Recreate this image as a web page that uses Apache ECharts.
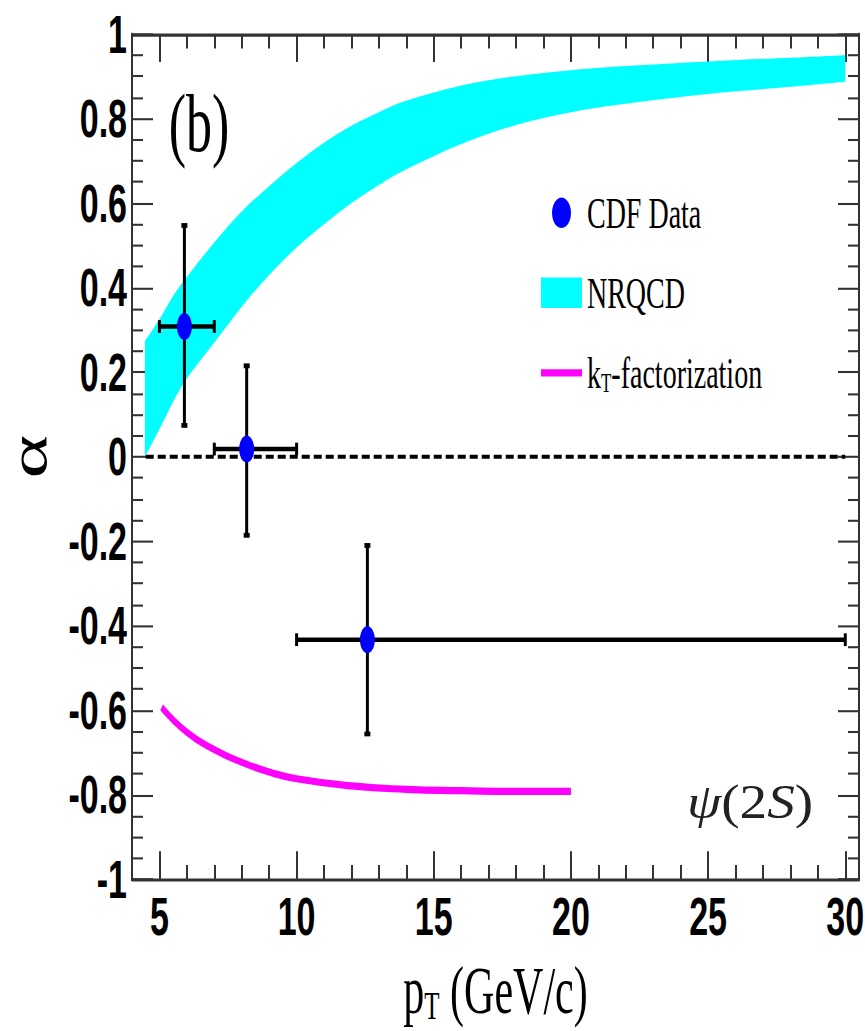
<!DOCTYPE html>
<html>
<head>
<meta charset="utf-8">
<title>psi(2S) polarization vs pT</title>
<script src="https://cdn.jsdelivr.net/npm/echarts@6/dist/echarts.min.js"></script>
<style>
  html, body { margin: 0; padding: 0; background: #fff; }
  #page { width: 865px; height: 1031px; position: relative; }
  /* the reference is stretched vertically: draw it flat, then stretch it back */
  #chart { position: absolute; left: 0; top: 0; width: 865px; height: 644.375px; transform: scaleY(1.6); transform-origin: 0 0; }
</style>
</head>
<body>
<div id="page"><div id="chart"></div></div>
<script>
// NRQCD band
const bandX     = [4.47, 5.0, 5.5, 6.0, 7.0, 8.0, 9.0, 10.0, 11.0, 12.0, 13.0, 14.0, 16.0, 18.0, 20.0, 22.0, 25.0, 28.0, 30.0];
const bandUpper = [0.273, 0.325, 0.38, 0.425, 0.507, 0.58, 0.64, 0.695, 0.743, 0.783, 0.815, 0.842, 0.878, 0.900, 0.914, 0.924, 0.935, 0.944, 0.95];
const bandLower = [0.0, 0.065, 0.13, 0.185, 0.27, 0.355, 0.43, 0.495, 0.55, 0.6, 0.643, 0.68, 0.74, 0.785, 0.815, 0.835, 0.858, 0.875, 0.887];

// kT-factorization curve
const ktX = [5.08, 6, 7, 8, 9, 10, 12, 14, 16, 18, 20];
const ktY = [-0.593, -0.652, -0.693, -0.723, -0.746, -0.762, -0.779, -0.787, -0.790, -0.792, -0.792];

// CDF data points with their pT bins and errors
const cdfX     = [5.91, 8.18, 12.58];
const cdfY     = [0.308, 0.018, -0.433];
const cdfXLow  = [5, 7, 10];
const cdfXHigh = [7, 10, 30];
const cdfYLow  = [0.074, -0.186, -0.656];
const cdfYHigh = [0.547, 0.215, -0.210];

// dashed line at alpha = 0
const zeroX = [4.5, 30];

const xMajorTicks = [5, 10, 15, 20, 25, 30];
const xMinorTicks = [4, 5, 6, 7, 8, 9, 10, 11, 12, 13, 14, 15, 16, 17, 18, 19, 20, 21, 22, 23, 24, 25, 26, 27, 28, 29, 30];

const frame = '#333';
const labelFont = { color: '#000', fontFamily: 'Liberation Sans', fontWeight: 'bold', fontSize: 34 };

function xAxisOf(position, ticks, len, withLine, withLabels) {
  return {
    type: 'value', min: 4, max: 30.5, position: position,
    splitLine: { show: false },
    axisLine: { show: withLine, onZero: false, lineStyle: { color: frame, width: 2 } },
    axisTick: { show: true, inside: true, length: len, customValues: ticks, lineStyle: { color: frame, width: 2 } },
    axisLabel: withLabels
      ? Object.assign({ show: true, margin: 6, customValues: xMajorTicks }, labelFont)
      : { show: false }
  };
}

function yAxisOf(position, withLabels) {
  return {
    type: 'value', min: -1, max: 1, interval: 0.2, position: position,
    splitLine: { show: false },
    axisLine: { show: true, onZero: false, lineStyle: { color: frame, width: 2 } },
    axisTick: { show: true, inside: true, length: 21, lineStyle: { color: frame, width: 1.3 } },
    minorTick: { show: true, splitNumber: 4, length: 11, lineStyle: { color: frame, width: 1.3 } },
    axisLabel: withLabels ? Object.assign({ show: true, margin: 5 }, labelFont) : { show: false }
  };
}

const xBottom = xAxisOf('bottom', xMajorTicks, 17.5, true, true);
xBottom.name = '{a|p}{s|T}{a| (GeV/c)}';
xBottom.nameLocation = 'middle';
xBottom.nameGap = 47;
xBottom.nameTextStyle = {
  rich: {
    a: { fontFamily: 'Liberation Serif', fontSize: 42, color: '#000', lineHeight: 44 },
    s: { fontFamily: 'Liberation Serif', fontSize: 25, color: '#000', lineHeight: 24, verticalAlign: 'bottom' }
  }
};

const yLeft = yAxisOf('left', true);
yLeft.name = 'α';
yLeft.nameLocation = 'middle';
yLeft.nameRotate = 90;
yLeft.nameGap = 84;
yLeft.nameTextStyle = { fontFamily: 'Liberation Serif', fontSize: 52, lineHeight: 40, color: '#000' };

// smooth outline through the given pixel points (Catmull-Rom as cubic Beziers)
function curveTo(pts) {
  let d = '';
  for (let i = 0; i < pts.length - 1; i++) {
    const p0 = pts[Math.max(i - 1, 0)], p1 = pts[i], p2 = pts[i + 1], p3 = pts[Math.min(i + 2, pts.length - 1)];
    const c1 = [p1[0] + (p2[0] - p0[0]) / 6, p1[1] + (p2[1] - p0[1]) / 6];
    const c2 = [p2[0] - (p3[0] - p1[0]) / 6, p2[1] - (p3[1] - p1[1]) / 6];
    d += ' C' + c1[0] + ',' + c1[1] + ' ' + c2[0] + ',' + c2[1] + ' ' + p2[0] + ',' + p2[1];
  }
  return d;
}

function renderBand(params, api) {
  if (params.dataIndex !== 0) return null;
  const up = bandX.map((x, i) => api.coord([x, bandUpper[i]]));
  const low = bandX.map((x, i) => api.coord([x, bandLower[i]])).reverse();
  const d = 'M' + up[0][0] + ',' + up[0][1] + curveTo(up) +
            ' L' + low[0][0] + ',' + low[0][1] + curveTo(low) + ' Z';
  return { type: 'path', shape: { pathData: d }, style: { fill: '#00ffff' } };
}

function renderErrorBar(params, api) {
  const x = api.value(0), y = api.value(1);
  const c = api.coord([x, y]);
  const l = api.coord([api.value(2), y]);
  const r = api.coord([api.value(3), y]);
  const lo = api.coord([x, api.value(4)]);
  const hi = api.coord([x, api.value(5)]);
  const seg = (x1, y1, x2, y2, w) => ({
    type: 'line', shape: { x1: x1, y1: y1, x2: x2, y2: y2 }, style: { stroke: '#000', lineWidth: w }
  });
  return {
    type: 'group',
    children: [
      seg(lo[0], lo[1], hi[0], hi[1], 3),
      seg(l[0], c[1], r[0], c[1], 2.8),
      seg(lo[0] - 3, lo[1], lo[0] + 3, lo[1], 3),
      seg(hi[0] - 3, hi[1], hi[0] + 3, hi[1], 3),
      seg(l[0], c[1] - 4, l[0], c[1] + 4, 3),
      seg(r[0], c[1] - 4, r[0], c[1] + 4, 3)
    ]
  };
}

const chart = echarts.init(document.getElementById('chart'), null, { renderer: 'svg' });

chart.setOption({
  backgroundColor: '#fff',
  animation: false,
  grid: { left: 132, right: 6, top: 21.25, bottom: 94.4, outerBoundsMode: 'none' },
  xAxis: [
    xBottom,
    xAxisOf('bottom', xMinorTicks, 9, false, false),
    xAxisOf('top', xMajorTicks, 17.5, true, false),
    xAxisOf('top', xMinorTicks, 9, false, false)
  ],
  yAxis: [yLeft, yAxisOf('right', false)],
  legend: {
    orient: 'vertical', left: 536, top: 114,
    itemWidth: 41, itemHeight: 19, itemGap: 22, itemTextGap: 6,
    data: [
      { name: 'CDF Data', icon: 'circle' },
      { name: 'NRQCD', icon: 'rect' },
      { name: 'kT-factorization', icon: 'path://M0,0 L41,0 L41,4.5 L0,4.5 Z' }
    ],
    formatter: function (name) {
      if (name === 'kT-factorization') return '{a|k}{s|T}{a|-factorization}';
      return '{a|' + name + '}';
    },
    textStyle: {
      rich: {
        a: { fontFamily: 'Liberation Serif', fontSize: 28, color: '#000', lineHeight: 30 },
        s: { fontFamily: 'Liberation Serif', fontSize: 17, color: '#000', lineHeight: 17, verticalAlign: 'bottom' }
      }
    }
  },
  graphic: [
    {
      type: 'text', x: 199, y: 77,
      style: { text: '(b)', fontFamily: 'Liberation Serif', fontSize: 52, fill: '#000', align: 'center', verticalAlign: 'middle' }
    },
    {
      type: 'text', x: 750, y: 501, scaleX: 1.84,
      style: {
        text: '{i|ψ}(2{i|S})', fontFamily: 'Liberation Serif', fontSize: 30, fill: '#222',
        align: 'center', verticalAlign: 'middle',
        rich: { i: { fontFamily: 'Liberation Serif', fontSize: 30, fontStyle: 'italic', fill: '#222' } }
      }
    }
  ],
  series: [
    {
      name: 'NRQCD', type: 'custom', renderItem: renderBand, silent: true, z: 1,
      itemStyle: { color: '#00ffff' },
      encode: { x: 0, y: [1, 2] },
      data: bandX.map((x, i) => [x, bandLower[i], bandUpper[i]])
    },
    {
      name: 'zero', type: 'line', symbol: 'none', silent: true, z: 2,
      lineStyle: { color: '#000', width: 2.5, type: [8, 4] },
      data: zeroX.map(x => [x, 0])
    },
    {
      name: 'kT-factorization', type: 'line', smooth: true, symbol: 'none', z: 3,
      itemStyle: { color: '#ff00ff' },
      lineStyle: { color: '#ff00ff', width: 4.5 },
      data: ktX.map((x, i) => [x, ktY[i]])
    },
    {
      name: 'errors', type: 'custom', renderItem: renderErrorBar, silent: true, z: 4,
      encode: { x: [0, 2, 3], y: [1, 4, 5] },
      data: cdfX.map((x, i) => [x, cdfY[i], cdfXLow[i], cdfXHigh[i], cdfYLow[i], cdfYHigh[i]])
    },
    {
      name: 'CDF Data', type: 'scatter', symbol: 'circle', symbolSize: [15, 17], z: 5,
      itemStyle: { color: '#0000ff', opacity: 1 },
      data: cdfX.map((x, i) => [x, cdfY[i]])
    }
  ]
});
</script>
</body>
</html>
